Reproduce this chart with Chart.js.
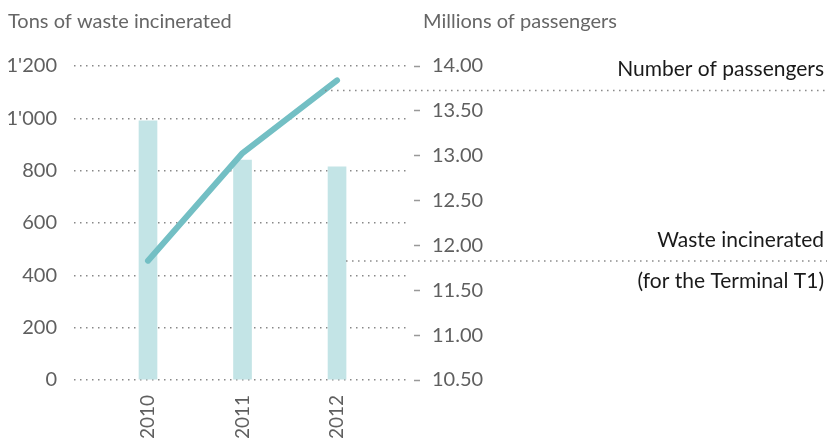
<!DOCTYPE html>
<html>
<head>
<meta charset="utf-8">
<script src="https://cdn.jsdelivr.net/npm/chart.js@4"></script>
<style>
  body { margin: 0; background: #fff; }
  canvas { display: block; }
</style>
</head>
<body>
<canvas id="chart" width="827" height="439"></canvas>
<script>
// datos
const years = [2010, 2011, 2012];
const wasteTons = [990, 840, 815];
const passengersMillions = [11.83, 13.03, 13.84];
const wasteTicks = [0, 200, 400, 600, 800, 1000, 1200];
const passengerTicks = [10.5, 11, 11.5, 12, 12.5, 13, 13.5, 14];

const FONT = 'Lato, "Open Sans", sans-serif';
const GREY = '#5f5f5f';
const DOTS = [1.5, 4.5];

function formatTons(v) {
    return String(v).replace(/\B(?=(\d{3})+(?!\d))/g, "'");
}

// títulos, leyendas y líneas guía
const annotations = {
    id: 'annotations',
    afterDraw(chart) {
        const ctx = chart.ctx;
        const W = chart.width;
        ctx.save();

        ctx.font = '20px ' + FONT;
        ctx.fillStyle = '#666';
        ctx.textAlign = 'left';
        ctx.textBaseline = 'alphabetic';
        ctx.fillText('Tons of waste incinerated', 8, 28);
        ctx.fillText('Millions of passengers', 423, 28);

        const linePts = chart.getDatasetMeta(1).data;
        const bars = chart.getDatasetMeta(0).data;
        const lastPt = linePts[linePts.length - 1];
        const lastBar = bars[bars.length - 1];

        ctx.strokeStyle = '#888';
        ctx.lineWidth = 1.5;
        ctx.setLineDash(DOTS);
        ctx.beginPath();
        ctx.moveTo(lastPt.x - 12, 90.5);
        ctx.lineTo(W, 90.5);
        ctx.moveTo(lastBar.x + lastBar.width / 2, 261);
        ctx.lineTo(W, 261);
        ctx.stroke();
        ctx.setLineDash([]);

        ctx.font = '21px ' + FONT;
        ctx.fillStyle = '#1a1a1a';
        ctx.textAlign = 'right';
        ctx.fillText('Number of passengers', 824, 76);
        ctx.fillText('Waste incinerated', 824, 247);
        ctx.fillText('(for the Terminal T1)', 824, 288);
        ctx.restore();
    }
};

new Chart(document.getElementById('chart'), {
    type: 'bar',
    data: {
        datasets: [
            {
                type: 'bar',
                label: 'Waste incinerated',
                data: years.map((y, i) => ({ x: y, y: wasteTons[i] })),
                backgroundColor: '#c3e4e6',
                barThickness: 18,
                yAxisID: 'y',
                order: 2
            },
            {
                type: 'line',
                label: 'Number of passengers',
                data: years.map((y, i) => ({ x: y, y: passengersMillions[i] })),
                borderColor: '#73bfc4',
                borderWidth: 6,
                borderCapStyle: 'round',
                borderJoinStyle: 'round',
                pointRadius: 0,
                tension: 0,
                yAxisID: 'y1',
                order: 1
            }
        ]
    },
    options: {
        responsive: false,
        devicePixelRatio: 1,
        animation: false,
        layout: { padding: { top: 66, left: 0, right: 0, bottom: 0 } },
        plugins: { legend: { display: false }, tooltip: { enabled: false } },
        scales: {
            x: {
                type: 'linear',
                offset: false,
                min: 2009.217,
                max: 2012.772,
                afterBuildTicks: s => { s.ticks = years.map(v => ({ value: v })); },
                afterFit: s => { s.height = 59; },
                grid: { display: false, offset: false },
                border: { display: false },
                ticks: {
                    minRotation: 90,
                    maxRotation: 90,
                    padding: 7,
                    color: GREY,
                    font: { family: FONT, size: 19 },
                    callback: v => String(v)
                }
            },
            y: {
                position: 'left',
                min: 0,
                max: 1200,
                afterBuildTicks: s => { s.ticks = wasteTicks.map(v => ({ value: v })); },
                afterFit: s => { s.width = 74; },
                grid: { color: '#888', lineWidth: 1.5, drawTicks: false },
                border: { display: false, dash: DOTS },
                ticks: {
                    padding: 17,
                    color: GREY,
                    font: { family: FONT, size: 20 },
                    callback: v => formatTons(v)
                }
            },
            y1: {
                position: 'right',
                min: 10.5,
                max: 14,
                afterBuildTicks: s => { s.ticks = passengerTicks.map(v => ({ value: v })); },
                afterFit: s => { s.width = 417; },
                grid: {
                    drawOnChartArea: false,
                    drawTicks: true,
                    tickLength: 10,
                    tickColor: '#999',
                    tickWidth: 1.5,
                    tickBorderDash: [0, 4, 6, 40]
                },
                border: { display: false },
                ticks: {
                    padding: 12,
                    color: GREY,
                    font: { family: FONT, size: 20 },
                    callback: v => v.toFixed(2)
                }
            }
        }
    },
    plugins: [annotations]
});
</script>
</body>
</html>
